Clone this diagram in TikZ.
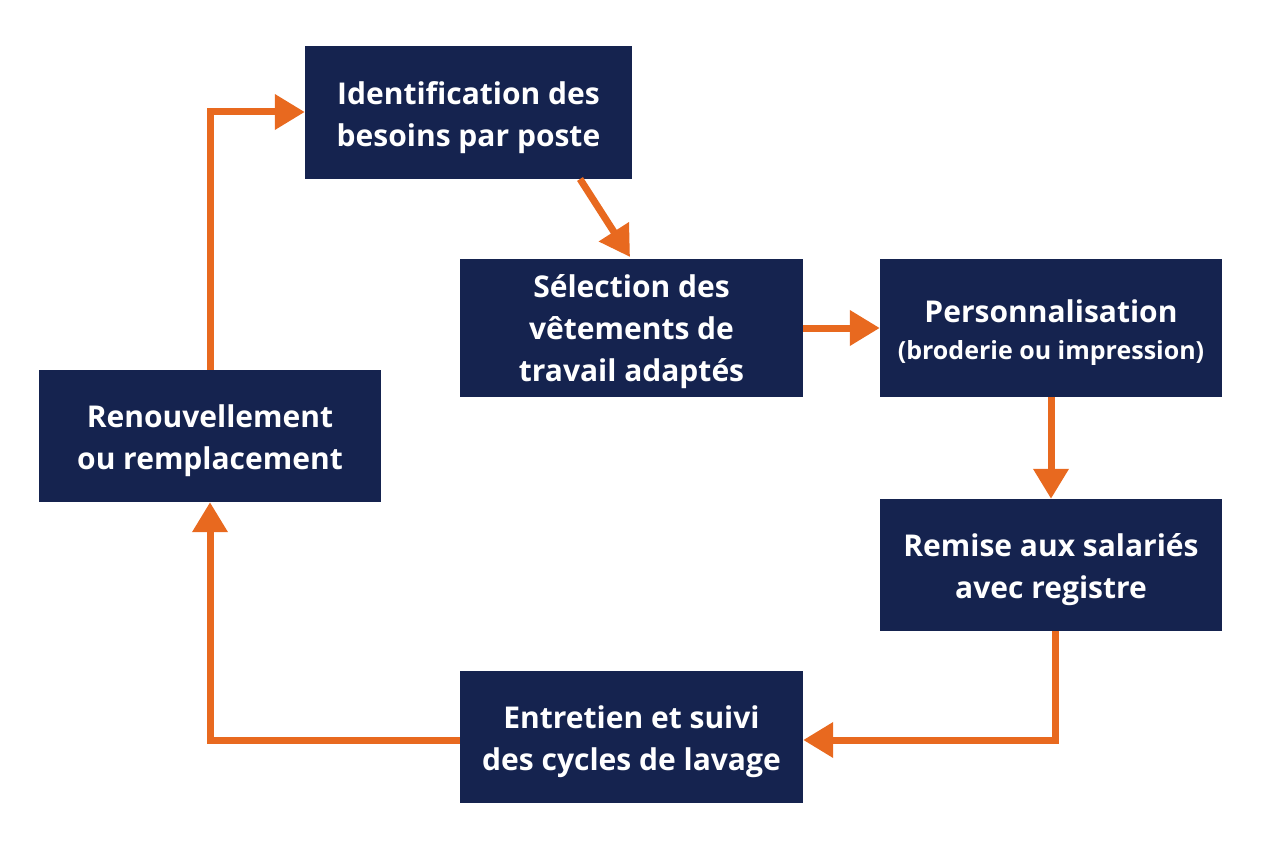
\documentclass[tikz,border=0pt]{standalone}
\usepackage{fontspec}
\setmainfont{Open Sans}
\usetikzlibrary{arrows.meta}
\definecolor{navy}{HTML}{15234F}
\definecolor{flow}{HTML}{E8691F}
\begin{document}
\begin{tikzpicture}[x=1pt,y=-1pt,
  box/.style={fill=navy,inner sep=0pt},
  txt/.style={text=white,align=center,inner sep=0pt,font=\bfseries\fontsize{30}{42}\selectfont},
  conn/.style={draw=flow,line width=7pt,-{Triangle[length=30pt,width=34pt]}}]
\useasboundingbox (0,0) rectangle (1264,848);
\node[box,minimum width=327pt,minimum height=133pt] (ident) at (468.5,112.5) {};
\node[box,minimum width=343pt,minimum height=138pt] (sel) at (631.5,328) {};
\node[box,minimum width=342pt,minimum height=138pt] (pers) at (1051,328) {};
\node[box,minimum width=342pt,minimum height=132pt] (rem) at (1051,565) {};
\node[box,minimum width=343pt,minimum height=132pt] (ent) at (631.5,737) {};
\node[box,minimum width=342pt,minimum height=132pt] (ren) at (210,436) {};
\node[txt] (identT) at ([yshift=-5pt]ident.center) {Identification des\\besoins par poste};
\node[txt] (selT) at ([yshift=-4pt]sel.center) {Sélection des\\vêtements de\\travail adaptés};
\node[txt] (persT) at ([yshift=-5pt]pers.center) {Personnalisation\\[-5pt]{\fontsize{25}{38}\selectfont(broderie ou impression)}};
\node[txt] (remT) at ([yshift=-5pt]rem.center) {Remise aux salariés\\avec registre};
\node[txt] (entT) at ([yshift=-5pt]ent.center) {Entretien et suivi\\des cycles de lavage};
\node[txt] (renT) at ([yshift=-5pt]ren.center) {Renouvellement\\ou remplacement};
\coordinate (c1) at (210,112);
\coordinate (c2) at (1055,740);
\coordinate (c3) at (210,740);
\draw[conn] (580,179) -- (630,257);
\draw[conn] (sel.east) -- (pers.west);
\draw[conn] (pers.south) -- (rem.north);
\draw[conn] (rem.south -| c2) -- (c2) -- (ent.east |- c2);
\draw[conn] (ent.west |- c3) -- (c3) -- (ren.south);
\draw[conn] (ren.north) -- (c1) -- (ident.west |- c1);
\end{tikzpicture}
\end{document}
